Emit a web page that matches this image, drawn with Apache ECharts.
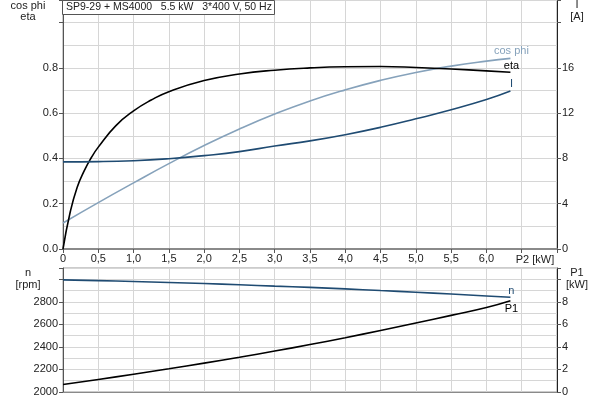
<!DOCTYPE html>
<html>
<head>
<meta charset="utf-8">
<script src="https://cdn.jsdelivr.net/npm/echarts@6/dist/echarts.min.js"></script>
<style>html,body{margin:0;padding:0;background:#fff}#c{width:600px;height:400px}</style>
</head>
<body>
<div id="c"></div>
<script>
// ---- data ----
const titleText = 'SP9-29 + MS4000   5.5 kW   3*400 V, 50 Hz';
const etaP2 = [0, 0.1, 0.2, 0.3, 0.4, 0.5, 0.75, 1.0, 1.25, 1.5, 2.0, 2.5, 3.0, 3.5, 4.0, 4.5, 5.0, 5.5, 6.0, 6.34];
const etaVals = [0, 0.16, 0.272, 0.345, 0.403, 0.45, 0.545, 0.61, 0.658, 0.695, 0.744, 0.773, 0.79, 0.80, 0.805, 0.806, 0.802, 0.795, 0.787, 0.781];
const p2 = [0, 0.5, 1.0, 1.5, 2.0, 2.5, 3.0, 3.5, 4.0, 4.5, 5.0, 5.5, 6.0, 6.34];
const cosPhiVals = [0.115, 0.205, 0.292, 0.377, 0.457, 0.530, 0.596, 0.654, 0.703, 0.745, 0.780, 0.808, 0.830, 0.842];
const currentVals = [7.7, 7.72, 7.8, 7.98, 8.25, 8.6, 9.1, 9.55, 10.1, 10.75, 11.5, 12.3, 13.2, 13.95];
const speedVals = [2995, 2988, 2980, 2971, 2962, 2951, 2939, 2928, 2915, 2900, 2885, 2869, 2852, 2840];
const p1Vals = [0.66, 1.11, 1.58, 2.06, 2.56, 3.08, 3.63, 4.21, 4.82, 5.46, 6.12, 6.80, 7.50, 8.1];

const FONT = 'Liberation Sans, Arial, sans-serif';
const GRID_C = '#d6d6d6';
const DARK_BLUE = '#1f4b72';
const LIGHT_BLUE = '#86a2bb';

function pairs(xs, ys) { return xs.map((x, i) => [x, ys[i]]); }
function endLbl(name, color, dy) {
  return { show: true, formatter: name, color: color, fontSize: 11, fontFamily: FONT,
           distance: 0, align: 'center', verticalAlign: 'middle', offset: [1, dy] };
}

const xCommon = {
  type: 'value', min: 0, max: 7, interval: 0.5,
  splitLine: { show: true, lineStyle: { color: GRID_C, width: 1 } },
};

const chart = echarts.init(document.getElementById('c'), null, { renderer: 'canvas' });
chart.setOption({
  animation: false,
  backgroundColor: '#fff',
  title: {
    text: titleText, left: 62, top: 0, padding: [2, 3, 2, 4],
    borderColor: '#555', borderWidth: 1, backgroundColor: '#fff',
    textStyle: { fontSize: 10.5, fontWeight: 'normal', color: '#222', fontFamily: FONT }
  },
  grid: [
    { left: 63, right: 43, top: 0, height: 249, show: true, borderColor: '#999', borderWidth: 1 },
    { left: 63, right: 43, top: 268, height: 124, show: true, borderColor: '#999', borderWidth: 1 }
  ],
  xAxis: [
    Object.assign({}, xCommon, {
      gridIndex: 0,
      axisLine: { show: true, onZero: false, lineStyle: { color: '#8a8a8a', width: 2 } },
      axisTick: { show: true, length: 4, lineStyle: { color: '#555' } },
      axisLabel: {
        show: true, margin: 4, fontSize: 11, color: '#222', fontFamily: FONT,
        formatter: v => (v > 6.01 ? '' : (v === 0 ? '0' : v.toFixed(1).replace('.', ',')))
      }
    }),
    Object.assign({}, xCommon, {
      gridIndex: 1,
      axisLine: { show: true, onZero: false, lineStyle: { color: '#8a8a8a', width: 1 } },
      axisTick: { show: false },
      axisLabel: { show: false }
    })
  ],
  yAxis: [
    {
      type: 'value', gridIndex: 0, min: 0, max: 1.1, interval: 0.2, position: 'left',
      axisLine: { show: true, lineStyle: { color: '#555' } },
      axisTick: { show: true, length: 4, lineStyle: { color: '#555' } },
      axisLabel: { margin: 5, fontSize: 11, color: '#222', fontFamily: FONT, formatter: v => (v > 0.85 ? '' : v.toFixed(1)) },
      splitLine: { show: true, lineStyle: { color: GRID_C } },
      minorTick: { show: false, splitNumber: 2 },
      minorSplitLine: { show: true, lineStyle: { color: GRID_C } }
    },
    {
      type: 'value', gridIndex: 0, min: 0, max: 22, interval: 4, position: 'right',
      axisLine: { show: true, lineStyle: { color: '#222' } },
      axisTick: { show: true, length: 4, lineStyle: { color: '#555' } },
      axisLabel: { margin: 5, fontSize: 11, color: '#222', fontFamily: FONT, formatter: v => (v > 17 ? '' : String(v)) },
      splitLine: { show: false }
    },
    {
      type: 'value', gridIndex: 1, min: 2000, max: 3100, interval: 200, position: 'left',
      axisLine: { show: true, lineStyle: { color: '#555' } },
      axisTick: { show: true, length: 4, lineStyle: { color: '#555' } },
      axisLabel: { margin: 5, fontSize: 11, color: '#222', fontFamily: FONT, formatter: v => (v > 2900 ? '' : String(v)) },
      splitLine: { show: true, lineStyle: { color: GRID_C } },
      minorTick: { show: false, splitNumber: 2 },
      minorSplitLine: { show: true, lineStyle: { color: GRID_C } }
    },
    {
      type: 'value', gridIndex: 1, min: 0, max: 11, interval: 2, position: 'right',
      axisLine: { show: true, lineStyle: { color: '#222' } },
      axisTick: { show: true, length: 4, lineStyle: { color: '#555' } },
      axisLabel: { margin: 5, fontSize: 11, color: '#222', fontFamily: FONT, formatter: v => (v > 9 ? '' : String(v)) },
      splitLine: { show: false }
    }
  ],
  series: [
    { name: 'cos phi', type: 'line', xAxisIndex: 0, yAxisIndex: 0, smooth: true, symbol: 'none',
      lineStyle: { color: LIGHT_BLUE, width: 1.6 }, itemStyle: { color: LIGHT_BLUE },
      endLabel: endLbl('cos phi', LIGHT_BLUE, -7), data: pairs(p2, cosPhiVals) },
    { name: 'eta', type: 'line', xAxisIndex: 0, yAxisIndex: 0, smooth: true, symbol: 'none',
      lineStyle: { color: '#000', width: 1.6 }, itemStyle: { color: '#000' },
      endLabel: endLbl('eta', '#000', -6), data: pairs(etaP2, etaVals) },
    { name: 'I', type: 'line', xAxisIndex: 0, yAxisIndex: 1, smooth: true, symbol: 'none',
      lineStyle: { color: DARK_BLUE, width: 1.6 }, itemStyle: { color: DARK_BLUE },
      endLabel: endLbl('I', DARK_BLUE, -7), data: pairs(p2, currentVals) },
    { name: 'n', type: 'line', xAxisIndex: 1, yAxisIndex: 2, smooth: true, symbol: 'none',
      lineStyle: { color: DARK_BLUE, width: 1.6 }, itemStyle: { color: DARK_BLUE },
      endLabel: endLbl('n', DARK_BLUE, -6), data: pairs(p2, speedVals) },
    { name: 'P1', type: 'line', xAxisIndex: 1, yAxisIndex: 3, smooth: true, symbol: 'none',
      lineStyle: { color: '#000', width: 1.6 }, itemStyle: { color: '#000' },
      endLabel: endLbl('P1', '#000', 8), data: pairs(p2, p1Vals) }
  ],
  graphic: [
    { type: 'text', x: 28, y: 6, style: { text: 'cos phi', textAlign: 'center', textVerticalAlign: 'middle', fill: '#222', font: '11px ' + FONT } },
    { type: 'text', x: 28, y: 17, style: { text: 'eta', textAlign: 'center', textVerticalAlign: 'middle', fill: '#222', font: '11px ' + FONT } },
    { type: 'text', x: 577, y: 5, style: { text: 'I', textAlign: 'center', textVerticalAlign: 'middle', fill: '#222', font: '11px ' + FONT } },
    { type: 'text', x: 577, y: 17, style: { text: '[A]', textAlign: 'center', textVerticalAlign: 'middle', fill: '#222', font: '11px ' + FONT } },
    { type: 'text', x: 535, y: 260, style: { text: 'P2 [kW]', textAlign: 'center', textVerticalAlign: 'middle', fill: '#222', font: '11px ' + FONT } },
    { type: 'text', x: 28, y: 273, style: { text: 'n', textAlign: 'center', textVerticalAlign: 'middle', fill: '#222', font: '11px ' + FONT } },
    { type: 'text', x: 28, y: 285, style: { text: '[rpm]', textAlign: 'center', textVerticalAlign: 'middle', fill: '#222', font: '11px ' + FONT } },
    { type: 'text', x: 577, y: 273, style: { text: 'P1', textAlign: 'center', textVerticalAlign: 'middle', fill: '#222', font: '11px ' + FONT } },
    { type: 'text', x: 577, y: 285, style: { text: '[kW]', textAlign: 'center', textVerticalAlign: 'middle', fill: '#222', font: '11px ' + FONT } }
  ]
});
</script>
</body>
</html>
